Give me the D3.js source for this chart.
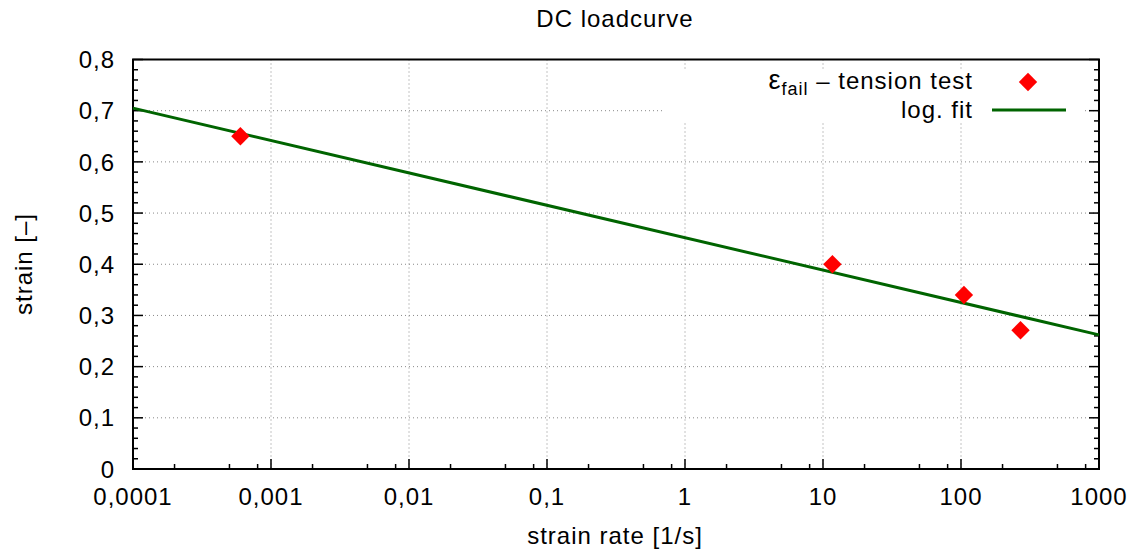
<!DOCTYPE html>
<html>
<head>
<meta charset="utf-8">
<script src="https://cdn.jsdelivr.net/npm/d3@7"></script>
<style>
  body { margin: 0; background: #fff; }
  svg { display: block; font-family: "Liberation Sans", Arial, sans-serif; }
</style>
</head>
<body>
<svg width="1139" height="556"></svg>
<script>
// measured test points
var rates = [0.0006, 11.7, 105, 270];
var strains = [0.65, 0.40, 0.34, 0.271];
// log fit, read at the ends of the x range
var fitRates = [0.0001, 1000];
var fitStrains = [0.705, 0.262];

var xTicks = [0.0001, 0.001, 0.01, 0.1, 1, 10, 100, 1000];
var xTickLabels = ["0,0001", "0,001", "0,01", "0,1", "1", "10", "100", "1000"];
var yTicks = [0, 0.1, 0.2, 0.3, 0.4, 0.5, 0.6, 0.7, 0.8];

var svg = d3.select("svg"),
    margin = {top: 59.5, right: 40, bottom: 87, left: 133},
    width = +svg.attr("width") - margin.left - margin.right,
    height = +svg.attr("height") - margin.top - margin.bottom;

var x = d3.scaleLog().domain([0.0001, 1000]).range([0, width]);
var y = d3.scaleLinear().domain([0, 0.8]).range([height, 0]);

var g = svg.append("g").attr("transform", "translate(" + margin.left + "," + margin.top + ")");

var fs = 24, ls = "1px";

// grid
g.selectAll(".gx").data(xTicks.slice(1, -1)).enter().append("line")
    .attr("x1", function(d) { return x(d); }).attr("x2", function(d) { return x(d); })
    .attr("y1", 0).attr("y2", height)
    .attr("stroke", "#888").attr("stroke-width", 1).attr("stroke-dasharray", "1,3");
g.selectAll(".gy").data(yTicks.slice(1, -1)).enter().append("line")
    .attr("y1", function(d) { return y(d); }).attr("y2", function(d) { return y(d); })
    .attr("x1", 0).attr("x2", width)
    .attr("stroke", "#888").attr("stroke-width", 1).attr("stroke-dasharray", "1,3");

// legend background hides the grid
g.append("rect")
    .attr("x", 663 - margin.left).attr("y", 69 - margin.top)
    .attr("width", 1082 - 663).attr("height", 122 - 69)
    .attr("fill", "#fff");

// minor / major ticks
var yMinor = d3.range(0, 0.8001, 0.02);
g.selectAll(".ytl").data(yMinor).enter().append("line")
    .attr("x1", 0).attr("x2", function(d, i) { return i % 5 == 0 ? 10 : 5; })
    .attr("y1", function(d) { return y(d); }).attr("y2", function(d) { return y(d); })
    .attr("stroke", "#000").attr("stroke-width", 1.5);
g.selectAll(".ytr").data(yMinor).enter().append("line")
    .attr("x1", width).attr("x2", function(d, i) { return width - (i % 5 == 0 ? 10 : 5); })
    .attr("y1", function(d) { return y(d); }).attr("y2", function(d) { return y(d); })
    .attr("stroke", "#000").attr("stroke-width", 1.5);

var xMinor = [];
xTicks.slice(0, -1).forEach(function(t) { [2, 5, 8].forEach(function(m) { xMinor.push(t * m); }); });
g.selectAll(".xtm").data(xMinor).enter().append("line")
    .attr("x1", function(d) { return x(d); }).attr("x2", function(d) { return x(d); })
    .attr("y1", height).attr("y2", height - 5)
    .attr("stroke", "#000").attr("stroke-width", 1.5);
g.selectAll(".xtM").data(xTicks).enter().append("line")
    .attr("x1", function(d) { return x(d); }).attr("x2", function(d) { return x(d); })
    .attr("y1", height).attr("y2", height - 10)
    .attr("stroke", "#000").attr("stroke-width", 1.5);

// border
g.append("rect").attr("width", width).attr("height", height)
    .attr("fill", "none").attr("stroke", "#000").attr("stroke-width", 2);

// tick labels
g.selectAll(".xl").data(xTicks).enter().append("text")
    .attr("x", function(d) { return x(d); }).attr("y", height + 36)
    .attr("text-anchor", "middle").attr("font-size", fs).attr("letter-spacing", ls)
    .text(function(d, i) { return xTickLabels[i]; });
g.selectAll(".yl").data(yTicks).enter().append("text")
    .attr("x", -18).attr("y", function(d) { return y(d); }).attr("dy", "0.36em")
    .attr("text-anchor", "end").attr("font-size", fs).attr("letter-spacing", ls)
    .text(function(d) { return d3.format(".1~f")(d).replace(".", ","); });

// fit line
var line = d3.line().x(function(d) { return x(d[0]); }).y(function(d) { return y(d[1]); });
g.append("path").datum(d3.zip(fitRates, fitStrains))
    .attr("d", line).attr("fill", "none")
    .attr("stroke", "#006400").attr("stroke-width", 3);

// diamonds
var diamond = d3.symbol().type(d3.symbolSquare).size(13 * 13);
g.selectAll(".pt").data(d3.zip(rates, strains)).enter().append("path")
    .attr("d", diamond)
    .attr("transform", function(d) { return "translate(" + x(d[0]) + "," + y(d[1]) + ") rotate(45)"; })
    .attr("fill", "#ff0000");

// legend
var leg = svg.append("g");
var t1 = leg.append("text").attr("x", 973).attr("y", 89)
    .attr("text-anchor", "end").attr("font-size", fs).attr("letter-spacing", ls);
t1.append("tspan").attr("font-size", 27).text("ε");
t1.append("tspan").attr("font-size", 18).attr("dy", 6).text("fail");
t1.append("tspan").attr("dy", -6).text(" – tension test");
leg.append("path").attr("d", diamond)
    .attr("transform", "translate(1028,82) rotate(45)").attr("fill", "#ff0000");
leg.append("text").attr("x", 973).attr("y", 118)
    .attr("text-anchor", "end").attr("font-size", fs).attr("letter-spacing", ls)
    .text("log. fit");
leg.append("line").attr("x1", 992).attr("x2", 1066).attr("y1", 110).attr("y2", 110)
    .attr("stroke", "#006400").attr("stroke-width", 3);

// titles
svg.append("text").attr("x", 615).attr("y", 27)
    .attr("text-anchor", "middle").attr("font-size", fs).attr("letter-spacing", ls)
    .text("DC loadcurve");
svg.append("text").attr("x", 615).attr("y", 544)
    .attr("text-anchor", "middle").attr("font-size", fs).attr("letter-spacing", ls)
    .text("strain rate [1/s]");
svg.append("text").attr("transform", "translate(32,264) rotate(-90)")
    .attr("text-anchor", "middle").attr("font-size", fs).attr("letter-spacing", ls)
    .text("strain [–]");
</script>
</body>
</html>
